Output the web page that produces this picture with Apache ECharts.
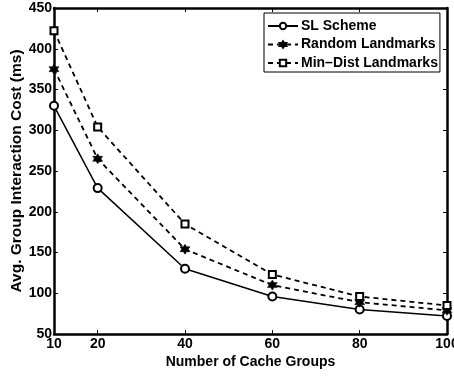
<!DOCTYPE html>
<html>
<head>
<meta charset="utf-8">
<script src="https://cdn.jsdelivr.net/npm/echarts@6/dist/echarts.min.js"></script>
<style>
  html, body { margin: 0; padding: 0; background: #fff; }
  #chart { width: 454px; height: 378px; }
</style>
</head>
<body>
<div id="chart"></div>
<script>
// data
const groups = [10, 20, 40, 60, 80, 100];
const slScheme = [330, 229, 130, 96, 80, 72];
const randomLandmarks = [375, 265, 154, 110, 89, 79];
const minDistLandmarks = [422, 304, 185, 123, 96, 85];
const xTicks = [10, 20, 40, 60, 80, 100];

const FONT = 'Liberation Sans';
const hexagram = 'path://M0 -1 L0.289 -0.5 L0.866 -0.5 L0.577 0 L0.866 0.5 L0.289 0.5 L0 1 L-0.289 0.5 L-0.866 0.5 L-0.577 0 L-0.866 -0.5 L-0.289 -0.5 Z';

const pairs = arr => groups.map((g, i) => [g, arr[i]]);

const labelStyle = { color: '#000', fontFamily: FONT, fontWeight: 'bold', fontSize: 14 };
const boxLine = { show: true, onZero: false, lineStyle: { color: '#000', width: 2.5 } };
const tick = { show: true, inside: true, length: 4, lineStyle: { color: '#000', width: 1 } };

const chart = echarts.init(document.getElementById('chart'));
const option = {
  backgroundColor: '#fff',
  animation: false,
  grid: { left: 54, right: 7, top: 8, bottom: 44, containLabel: false, outerBoundsMode: 'none' },
  legend: {
    left: 264,
    top: 13,
    orient: 'vertical',
    backgroundColor: '#fff',
    borderColor: '#000',
    borderWidth: 1,
    padding: [6, 2, 2, 3],
    itemWidth: 30,
    itemHeight: 8,
    itemGap: 4.5,
    textStyle: { color: '#000', fontFamily: FONT, fontWeight: 'bold', fontSize: 14, padding: [0, 0, 0, -2] },
    data: ['SL Scheme', 'Random Landmarks', 'Min\u2013Dist Landmarks'],
  },
  xAxis: [
    {
      type: 'value',
      min: 10,
      max: 100,
      name: 'Number of Cache Groups',
      nameLocation: 'middle',
      nameGap: 21,
      nameMoveOverlap: false,
      nameTextStyle: labelStyle,
      axisLine: boxLine,
      axisTick: Object.assign({ customValues: xTicks }, tick),
      axisLabel: Object.assign({ margin: 3, customValues: xTicks }, labelStyle),
      splitLine: { show: false },
    },
    {
      type: 'value',
      position: 'top',
      min: 10,
      max: 100,
      axisLine: boxLine,
      axisTick: Object.assign({ customValues: xTicks }, tick),
      axisLabel: { show: false },
      splitLine: { show: false },
    },
  ],
  yAxis: [
    {
      type: 'value',
      min: 50,
      max: 450,
      interval: 50,
      name: 'Avg. Group Interaction Cost (ms)',
      nameLocation: 'middle',
      nameGap: 29,
      nameMoveOverlap: false,
      nameTextStyle: Object.assign({}, labelStyle, { fontSize: 15.5 }),
      axisLine: boxLine,
      axisTick: tick,
      axisLabel: Object.assign({ margin: 2 }, labelStyle),
      splitLine: { show: false },
    },
    {
      type: 'value',
      position: 'right',
      min: 50,
      max: 450,
      interval: 50,
      axisLine: boxLine,
      axisTick: tick,
      axisLabel: { show: false },
      splitLine: { show: false },
    },
  ],
  series: [
    {
      name: 'SL Scheme',
      type: 'line',
      data: pairs(slScheme),
      symbol: 'emptyCircle',
      symbolSize: 8,
      lineStyle: { color: '#000', width: 1.5, type: 'solid' },
      itemStyle: { color: '#000', borderColor: '#000', borderWidth: 1.3 },
    },
    {
      name: 'Random Landmarks',
      type: 'line',
      data: pairs(randomLandmarks),
      symbol: hexagram,
      symbolSize: 10,
      lineStyle: { color: '#000', width: 1.8, type: [5, 4] },
      itemStyle: { color: '#000', borderColor: '#000', borderWidth: 0.5 },
    },
    {
      name: 'Min\u2013Dist Landmarks',
      type: 'line',
      data: pairs(minDistLandmarks),
      symbol: 'emptyRect',
      symbolSize: 7,
      lineStyle: { color: '#000', width: 1.8, type: [5, 4] },
      itemStyle: { color: '#000', borderColor: '#000', borderWidth: 1.3 },
    },
  ],
};
chart.setOption(option);
</script>
</body>
</html>
